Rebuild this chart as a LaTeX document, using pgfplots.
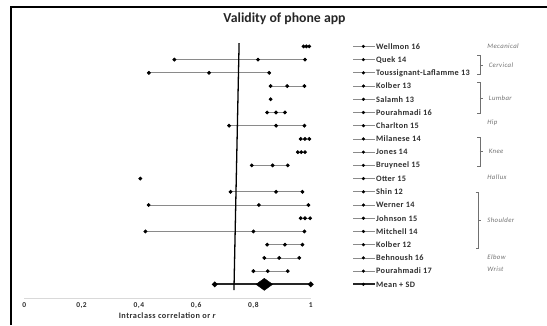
\documentclass[border=0pt]{standalone}
\usepackage{pgfplots}
\pgfplotsset{compat=1.18}
\usepackage{fontspec}
\setmainfont{Carlito}
\definecolor{txt}{HTML}{2E2E2E}
\definecolor{grp}{HTML}{707070}
\definecolor{whisk}{HTML}{8A8A8A}
\definecolor{axl}{HTML}{D9D9D9}
\begin{document}
\begin{tikzpicture}
\begin{axis}[
  scale only axis, width=286.4bp, height=263.3bp,
  xmin=0, xmax=1, ymin=-1.06, ymax=18.86,
  clip=false,
  axis x line*=bottom, axis y line=none,
  x axis line style={-, axl, line width=0.8pt},
  xtick={0,0.2,0.4,0.6,0.8,1},
  xticklabels={0,{0,2},{0,4},{0,6},{0,8},1},
  major tick length=0pt,
  xticklabel style={font=\fontsize{7.5}{8}\selectfont\bfseries\addfontfeature{LetterSpace=6}, text=txt, anchor=base, yshift=-9bp},
  xlabel={Intraclass correlation or \textit{r}},
  xlabel style={font=\fontsize{8.3}{9}\selectfont\bfseries\addfontfeature{LetterSpace=6}, text=txt, anchor=base, at={(axis description cs:0.5,0)}, yshift=-20bp},
]
% whiskers
\addplot[whisk, line width=0.8pt, mark=*, mark size=1.5bp, mark options={black, fill=black}] coordinates {(0.975,18)(0.985,18)(0.995,18)};
\addplot[whisk, line width=0.8pt, mark=*, mark size=1.5bp, mark options={black, fill=black}] coordinates {(0.524,17)(0.816,17)(0.98,17)};
\addplot[whisk, line width=0.8pt, mark=*, mark size=1.5bp, mark options={black, fill=black}] coordinates {(0.435,16)(0.645,16)(0.855,16)};
\addplot[whisk, line width=0.8pt, mark=*, mark size=1.5bp, mark options={black, fill=black}] coordinates {(0.86,15)(0.918,15)(0.978,15)};
\addplot[whisk, line width=0.8pt, mark=*, mark size=1.5bp, mark options={black, fill=black}] coordinates {(0.86,14)};
\addplot[whisk, line width=0.8pt, mark=*, mark size=1.5bp, mark options={black, fill=black}] coordinates {(0.848,13)(0.879,13)(0.91,13)};
\addplot[whisk, line width=0.8pt, mark=*, mark size=1.5bp, mark options={black, fill=black}] coordinates {(0.715,12)(0.879,12)(0.978,12)};
\addplot[whisk, line width=0.8pt, mark=*, mark size=1.5bp, mark options={black, fill=black}] coordinates {(0.965,11)(0.98,11)(0.995,11)};
\addplot[whisk, line width=0.8pt, mark=*, mark size=1.5bp, mark options={black, fill=black}] coordinates {(0.955,10)(0.967,10)(0.98,10)};
\addplot[whisk, line width=0.8pt, mark=*, mark size=1.5bp, mark options={black, fill=black}] coordinates {(0.794,9)(0.867,9)(0.92,9)};
\addplot[whisk, line width=0.8pt, mark=*, mark size=1.5bp, mark options={black, fill=black}] coordinates {(0.405,8)};
\addplot[whisk, line width=0.8pt, mark=*, mark size=1.5bp, mark options={black, fill=black}] coordinates {(0.72,7)(0.879,7)(0.971,7)};
\addplot[whisk, line width=0.8pt, mark=*, mark size=1.5bp, mark options={black, fill=black}] coordinates {(0.434,6)(0.819,6)(0.992,6)};
\addplot[whisk, line width=0.8pt, mark=*, mark size=1.5bp, mark options={black, fill=black}] coordinates {(0.965,5)(0.98,5)(0.998,5)};
\addplot[whisk, line width=0.8pt, mark=*, mark size=1.5bp, mark options={black, fill=black}] coordinates {(0.423,4)(0.80,4)(0.978,4)};
\addplot[whisk, line width=0.8pt, mark=*, mark size=1.5bp, mark options={black, fill=black}] coordinates {(0.848,3)(0.91,3)(0.971,3)};
\addplot[whisk, line width=0.8pt, mark=*, mark size=1.5bp, mark options={black, fill=black}] coordinates {(0.838,2)(0.89,2)(0.96,2)};
\addplot[whisk, line width=0.8pt, mark=*, mark size=1.5bp, mark options={black, fill=black}] coordinates {(0.80,1)(0.85,1)(0.92,1)};
% mean +- SD
\addplot[black!85, line width=2.2pt, mark=*, mark size=1.5bp, mark options={black, fill=black}] coordinates {(0.665,0)(1.0,0)};
\addplot[black, fill=black] coordinates {(0.809,0)(0.838,0.454)(0.867,0)(0.838,-0.454)} -- cycle;
% reference line
\addplot[black, line width=1.3pt] coordinates {(0.75,18.25)(0.732,-0.43)};
% label samples
\pgfplotsinvokeforeach{1,...,18}{
  \addplot[whisk, line width=0.8pt] coordinates {(1.149,#1)(1.224,#1)};
}
\addplot[black!85, line width=2pt] coordinates {(1.149,0)(1.224,0)};
\addplot[only marks, mark=*, mark size=1.4bp, black] coordinates {
(1.184,18)(1.184,17)(1.184,16)(1.184,15)(1.184,14)(1.184,13)(1.184,12)(1.184,11)(1.184,10)(1.184,9)
(1.184,8)(1.184,7)(1.184,6)(1.184,5)(1.184,4)(1.184,3)(1.184,2)(1.184,1)(1.184,0)};
% study labels
\begin{scope}[every node/.style={anchor=west, font=\fontsize{8.3}{9}\selectfont\bfseries\addfontfeature{LetterSpace=4}, text=txt, inner sep=0.5pt}]
\node at (axis cs:1.226,18) {Wellmon 16};
\node at (axis cs:1.226,17) {Quek 14};
\node at (axis cs:1.226,16) {Toussignant-Laflamme 13};
\node at (axis cs:1.226,15) {Kolber 13};
\node at (axis cs:1.226,14) {Salamh 13};
\node at (axis cs:1.226,13) {Pourahmadi 16};
\node at (axis cs:1.226,12) {Charlton 15};
\node at (axis cs:1.226,11) {Milanese 14};
\node at (axis cs:1.226,10) {Jones 14};
\node at (axis cs:1.226,9) {Bruyneel 15};
\node at (axis cs:1.226,8) {Otter 15};
\node at (axis cs:1.226,7) {Shin 12};
\node at (axis cs:1.226,6) {Werner 14};
\node at (axis cs:1.226,5) {Johnson 15};
\node at (axis cs:1.226,4) {Mitchell 14};
\node at (axis cs:1.226,3) {Kolber 12};
\node at (axis cs:1.226,2) {Behnoush 16};
\node at (axis cs:1.226,1) {Pourahmadi 17};
\node at (axis cs:1.226,0) {Mean + SD};
\end{scope}
% group labels
\begin{scope}[every node/.style={anchor=west, font=\fontsize{6.8}{8}\selectfont\itshape\addfontfeature{LetterSpace=6}, text=grp, inner sep=0pt}]
\node at (axis cs:1.616,18.03) {Mecanical};
\node at (axis cs:1.621,16.58) {Cervical};
\node at (axis cs:1.621,14.1) {Lumbar};
\node at (axis cs:1.616,12.2) {Hip};
\node at (axis cs:1.621,10.03) {Knee};
\node at (axis cs:1.616,8.14) {Hallux};
\node at (axis cs:1.616,4.86) {Shoulder};
\node at (axis cs:1.616,2.09) {Elbow};
\node at (axis cs:1.616,1.18) {Wrist};
\end{scope}
% brackets
\draw[grp, line width=0.6pt] (axis cs:1.581,17.29) -- (axis cs:1.591,17.29) -- (axis cs:1.591,15.88) -- (axis cs:1.581,15.88);
\draw[grp, line width=0.6pt] (axis cs:1.591,16.58) -- (axis cs:1.601,16.58);
\draw[grp, line width=0.6pt] (axis cs:1.581,15.25) -- (axis cs:1.591,15.25) -- (axis cs:1.591,12.93) -- (axis cs:1.581,12.93);
\draw[grp, line width=0.6pt] (axis cs:1.591,14.1) -- (axis cs:1.601,14.1);
\draw[grp, line width=0.6pt] (axis cs:1.581,11.09) -- (axis cs:1.591,11.09) -- (axis cs:1.591,8.95) -- (axis cs:1.581,8.95);
\draw[grp, line width=0.6pt] (axis cs:1.591,10.03) -- (axis cs:1.601,10.03);
\draw[grp, line width=0.6pt] (axis cs:1.576,6.96) -- (axis cs:1.586,6.96) -- (axis cs:1.586,2.72) -- (axis cs:1.576,2.72);
\draw[grp, line width=0.6pt] (axis cs:1.586,4.86) -- (axis cs:1.596,4.86);
% title and frame
\node[font=\fontsize{13.8}{15}\selectfont\bfseries, text=black!85] at (axis cs:0.9085,20.07) {Validity of phone app};
\draw[black, line width=2bp] (axis cs:-0.0464,-3.08) -- (axis cs:-0.0464,20.98) -- (axis cs:1.825,20.98);
\coordinate (bbsw) at (axis cs:-0.0848,-3.08);
\coordinate (bbne) at (axis cs:1.825,21.51);
\end{axis}
\pgfresetboundingbox
\path (bbsw) rectangle (bbne);
\end{tikzpicture}
\end{document}
